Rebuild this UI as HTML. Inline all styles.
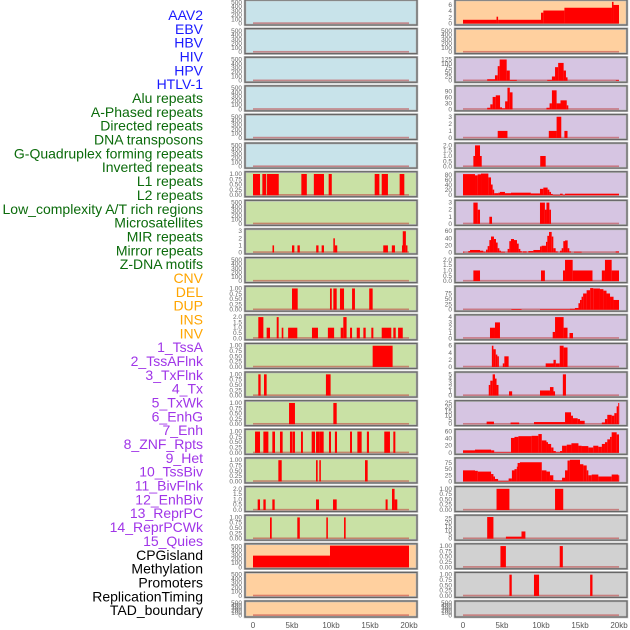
<!DOCTYPE html>
<html><head><meta charset="utf-8">
<style>
html,body{margin:0;padding:0;background:#fff;width:630px;height:630px;overflow:hidden;}
svg{display:block;font-family:"Liberation Sans",sans-serif;}
</style></head>
<body>
<svg id="chart" width="630" height="630"></svg>
<script>
// ---------- labels ----------
const labels = ["AAV2","EBV","HBV","HIV","HPV","HTLV-1","Alu repeats","A-Phased repeats","Directed repeats","DNA transposons","G-Quadruplex forming repeats","Inverted repeats","L1 repeats","L2 repeats","Low_complexity A/T rich regions","Microsatellites","MIR repeats","Mirror repeats","Z-DNA motifs","CNV","DEL","DUP","INS","INV","1_TssA","2_TssAFlnk","3_TxFlnk","4_Tx","5_TxWk","6_EnhG","7_Enh","8_ZNF_Rpts","9_Het","10_TssBiv","11_BivFlnk","12_EnhBiv","13_ReprPC","14_ReprPCWk","15_Quies","CPGisland","Methylation","Promoters","ReplicationTiming","TAD_boundary"];
const labelGroups = [0,0,0,0,0,0,1,1,1,1,1,1,1,1,1,1,1,1,1,2,2,2,2,2,3,3,3,3,3,3,3,3,3,3,3,3,3,3,3,4,4,4,4,4];
const groupColors = ["#1a1aff","#0b6b0b","#ffa500","#a035e8","#000000"];
const xTickVals = [0,5,10,15,20];
const xTickLabels = ["0","5kb","10kb","15kb","20kb"];

// ---------- tick sets ----------
const t500 = [0,100,200,300,400,500];
const t1 = [0,0.25,0.5,0.75,1];
const t2 = [0,0.5,1,1.5,2];
const t3 = [0,1,2,3];

// ---------- left column data: [startKb, endKb, value] ----------
const L07 = [[0,0.9,1],[1.2,1.7,1],[1.8,3.3,1],[6.2,6.9,1],[7.8,9.1,1],[9.7,10.1,1],[15.6,16.2,1],[16.5,17.3,1],[18.8,19.4,1]];
const L09 = [[2.5,2.7,1],[5.0,5.3,1],[5.7,6.0,1],[8.1,8.4,1],[8.8,9.1,1],[10.3,10.5,2],[10.5,10.8,1],[16.7,17.3,1],[17.8,18.2,1],[19.1,19.2,1],[19.2,19.6,3],[19.6,19.8,1]];
const L11 = [[5.0,5.73,1],[9.87,10.1,1],[10.3,10.73,1],[11.15,11.67,1],[12.7,13.07,1],[14.9,15.34,1]];
const L12 = [[0.68,1.33,2],[1.75,2.18,1],[3.04,3.29,2],[3.68,3.89,1],[4.5,5.68,1],[7.56,8.33,1],[9.6,10.4,1],[11.24,11.58,1],[11.58,12.0,2],[12.44,12.7,1],[13.3,13.7,1],[14.15,14.45,1],[15.17,15.43,1],[16.5,17.73,1],[17.99,18.3,1],[18.6,19.2,1]];
const L13 = [[15.34,17.9,1]];
const L14 = [[0.68,0.98,1],[1.41,1.75,1],[9.35,9.95,1]];
const L15 = [[4.62,5.38,1],[10.3,10.73,1]];
const L16 = [[0.26,0.9,1],[1.33,1.97,1],[2.48,2.82,1],[3.46,3.8,1],[4.74,5.04,1],[5.08,5.38,1],[6.15,6.4,1],[7.52,7.95,1],[8.08,8.5,1],[8.5,9.06,1],[9.74,10.0,1],[10.5,10.77,1],[12.44,12.69,1],[13.38,13.93,1],[14.6,14.87,1],[16.83,17.56,1],[17.99,18.25,1]];
const L17 = [[3.25,3.68,1],[8.08,8.29,1],[8.5,8.7,1],[14.36,14.7,1]];
const L18 = [[0.6,0.9,1],[1.33,1.63,1],[2.48,2.78,1],[8.08,8.46,1],[10.26,10.73,1],[17.0,17.26,1],[17.82,18.15,2],[18.15,18.5,1]];
const L19 = [[2.18,2.4,1],[5.68,6.0,1],[9.4,9.6,1],[11.67,11.88,1]];
const L20 = [[0,9.87,280],[9.87,20,520]];

// ---------- right column data ----------
const R01 = [[0,4.3,1.2],[4.3,4.5,2.2],[4.5,10.0,1.2],[10.0,10.3,3.5],[10.3,13.0,4.2],[13.0,19.1,5.1],[19.1,19.3,7],[19.3,20,6]];
const R03 = [[3.1,4.1,9],[4.1,4.45,32],[4.45,4.7,86],[4.7,5.6,125],[5.6,6.0,60],[6.0,6.9,5],[10.8,11.4,5],[11.4,11.8,25],[11.8,12.2,80],[12.2,12.9,105],[12.9,13.2,60],[13.2,13.4,20],[19.6,20,4]];
const R04 = [[3.1,3.5,8],[3.5,3.8,25],[3.8,4.2,62],[4.2,4.75,70],[4.75,5.0,10],[5.0,5.4,5],[5.4,5.7,40],[5.7,6.0,108],[6.0,6.35,85],[10.7,11.1,8],[11.1,11.4,30],[11.4,12.0,95],[12.0,12.5,30],[12.5,13.3,45],[13.3,13.5,20]];
const R05 = [[4.45,5.7,1],[11.0,12.0,1],[12.0,12.6,3],[13.0,13.4,1]];
const R06 = [[1.33,1.54,1],[1.54,2.18,2],[2.18,2.4,1],[9.9,10.6,1]];
const R07 = [[0,1.54,83],[1.54,1.88,78],[1.88,2.31,82],[2.31,3.25,85],[3.25,3.59,70],[3.59,3.8,42],[3.8,4.0,22],[4.0,4.53,8],[4.53,4.74,10],[4.74,5.38,13],[5.38,6.15,8],[6.15,8.7,10],[8.7,9.87,7],[9.87,10.3,25],[10.3,10.85,30],[10.85,11.07,22],[11.07,11.28,13],[11.28,11.5,5],[11.5,12.44,1],[12.44,12.78,6],[12.78,13.08,1],[13.08,20,6]];
const R08 = [[1.33,1.88,3],[1.88,2.18,2],[3.38,3.72,1],[9.87,10.5,3],[10.5,10.7,2],[10.7,11.07,3],[11.07,11.28,2]];
const R09 = [[0,0.17,2],[0.68,0.9,4],[0.9,2.18,7],[2.18,2.6,5],[2.6,2.9,2],[2.95,3.16,8],[3.16,3.38,18],[3.38,3.59,35],[3.59,3.97,45],[3.97,4.23,38],[4.23,4.44,28],[4.44,4.66,12],[4.66,4.87,5],[4.87,5.38,2],[5.72,5.94,10],[5.94,6.15,32],[6.15,6.54,38],[6.54,6.92,35],[6.92,7.14,25],[7.14,7.35,10],[7.35,7.52,4],[7.65,8.16,3],[8.38,9.02,4],[9.02,9.87,7],[9.87,10.08,17],[10.08,10.64,19],[10.64,10.81,30],[10.81,11.03,47],[11.03,11.37,58],[11.37,11.58,45],[11.58,11.88,12],[11.88,12.14,3],[12.44,12.65,5],[12.65,12.86,12],[12.86,13.08,32],[13.08,13.42,34],[13.42,13.63,12],[13.63,13.85,3],[14.23,15.21,2],[19.57,20,3]];
const R10 = [[1.33,2.18,1],[10.0,10.5,1],[12.82,13.08,1],[13.08,14.06,2],[14.06,16.6,1],[17.8,18.2,1],[18.2,19.06,2],[19.06,20,1]];
const R11 = [[6.2,7.5,3],[9.87,13.7,2],[13.7,14.35,4],[14.35,14.8,8],[14.8,15.0,30],[15.0,15.2,45],[15.2,15.4,60],[15.4,15.85,75],[15.85,16.3,90],[16.3,16.7,100],[16.7,17.56,98],[17.56,18.0,95],[18.0,18.4,88],[18.4,18.85,75],[18.85,19.3,60],[19.3,20,45]];
const R12 = [[3.46,4.1,2],[4.1,4.74,3],[11.5,11.8,1.2],[11.8,12.9,4],[12.9,13.4,2],[13.65,14.1,1]];
const R13 = [[3.7,3.9,6],[3.9,4.2,5],[4.2,4.4,3.5],[4.4,4.6,3],[5.1,5.3,1],[5.3,5.85,3],[10.6,11.6,1],[11.6,11.9,2],[11.9,12.4,1],[12.4,12.9,6],[12.9,13.4,5.5]];
const R14 = [[3.3,3.5,2.5],[3.5,3.8,3.5],[3.8,4.1,5],[4.1,4.3,4],[4.3,4.55,2.5],[5.9,6.3,1],[9.87,11.15,1.2],[11.15,11.6,2],[11.6,11.8,1],[12.8,13.2,5]];
const R15 = [[3.03,3.97,3],[6.1,7.2,2],[9.1,13.08,2.5],[13.08,13.85,14],[13.85,14.1,10],[14.1,14.7,7],[14.7,15.0,6],[15.0,15.6,4],[17.8,18.2,2],[18.2,18.5,6],[18.5,19.06,11],[19.06,19.4,10],[19.4,19.7,13],[19.7,19.9,21],[19.9,20,25]];
const R16 = [[0,1.54,7],[1.54,3.6,9],[3.6,4.0,7],[4.0,6.15,1],[6.15,6.6,42],[6.6,7.1,45],[7.1,8.8,47],[8.8,9.66,48],[9.66,10.1,53],[10.1,10.7,35],[10.7,10.9,30],[10.9,11.3,25],[11.3,11.6,15],[11.6,11.9,5],[11.9,12.44,1],[12.44,12.7,5],[12.7,13.3,20],[13.3,13.9,23],[13.9,14.8,27],[14.8,15.2,20],[15.2,16.07,19],[16.07,16.7,15],[16.7,17.35,20],[17.35,17.8,17],[17.8,18.2,25],[18.2,18.5,30],[18.5,18.85,38],[18.85,19.06,45],[19.06,19.7,58],[19.7,20,52]];
const R17 = [[0,1.54,45],[1.54,1.9,43],[1.9,3.6,40],[3.6,3.9,30],[3.9,4.1,20],[4.1,4.5,10],[4.5,5.85,1],[5.85,6.27,12],[6.27,6.6,45],[6.6,6.9,50],[6.9,7.0,60],[7.0,7.3,75],[7.3,10.1,78],[10.1,10.7,45],[10.7,11.15,40],[11.15,11.58,25],[11.58,11.8,5],[11.8,12.7,4],[12.7,13.08,15],[13.08,13.4,45],[13.4,13.7,85],[13.7,15.0,88],[15.0,15.43,70],[15.43,15.86,65],[15.86,16.07,45],[16.07,16.5,25],[16.5,17.35,28],[17.35,19.06,20],[19.06,19.9,28],[19.9,20,25]];
const R18 = [[4.3,5.95,1],[11.8,12.85,1]];
const R19 = [[3.1,3.9,27],[5.5,7.5,2.5],[7.5,8.0,9]];
const R20 = [[4.8,5.5,1],[12.4,12.8,1]];
const R21 = [[5.95,6.25,1],[9.1,9.75,1],[16.3,16.6,1]];

const leftData  = [[],[],[],[],[],[],L07,[],L09,[],L11,L12,L13,L14,L15,L16,L17,L18,L19,L20,[],[]];
const rightData = [R01,[],R03,R04,R05,R06,R07,R08,R09,R10,R11,R12,R13,R14,R15,R16,R17,R18,R19,R20,R21,[]];
const leftTicks  = [t500,t500,t500,t500,t500,t500,t1,t500,t3,t500,t1,t2,t1,t1,t1,t1,t1,t2,t1,t500,t500,t500];
const rightTicks = [[0,2,4,6],t500,[0,25,50,75,100,125],[0,30,60,90],t3,t2,[0,20,40,60,80],t3,[0,20,40,60],t2,[0,25,50,75],[0,1,2,3,4],[0,2,4,6],[0,1,2,3,4,5],[0,5,10,15,20,25],[0,20,40,60],[0,25,50,75],t1,[0,5,10,15,20,25],t1,t1,t500];

// ---------- drawing ----------
const NS = "http://www.w3.org/2000/svg";
const svg = document.getElementById("chart");
function mk(tag, attrs, parent){
  const e = document.createElementNS(NS, tag);
  for (const k in attrs) e.setAttribute(k, attrs[k]);
  (parent||svg).appendChild(e);
  return e;
}
const BLUE="#c8e3ea", PEACH="#ffd09f", LAV="#d6c5e2", GREEN="#c9e1a5", GRAY="#d1d1d1";
function leftBg(i){ return i<6?BLUE:(i<19?GREEN:PEACH); }
function rightBg(i){ return i<2?PEACH:(i<17?LAV:GRAY); }
function rowTop(i){ return 28.62*i; }
function rowH(i){ return i===21?16:25; }
function fmt(t, ticks){
  const top = ticks[ticks.length-1];
  if (top===1) return t.toFixed(2);
  if (top===2) return t.toFixed(1);
  return String(t);
}

// labels
labels.forEach((lab,i)=>{
  const t = mk("text",{x:203,y:15+13.84*i+5,"text-anchor":"end","font-size":"14",fill:groupColors[labelGroups[i]]});
  t.textContent = lab;
  
  
});

function drawPanel(i, side){
  const px0 = side==="L"?245:455, pw = 172;
  const x0 = side==="L"?253:463, kbw = 7.8;
  const data = side==="L"?leftData[i]:rightData[i];
  const ticks = side==="L"?leftTicks[i]:rightTicks[i];
  const top = rowTop(i), h = rowH(i);
  const g = mk("g",{});
  
  
  mk("rect",{x:px0,y:top,width:pw,height:h,fill:side==="L"?leftBg(i):rightBg(i),stroke:"#bbb","stroke-width":2.5},g);
  const topTick = ticks[ticks.length-1];
  let dmax = 0; data.forEach(d=>{ if(d[2]>dmax) dmax=d[2]; });
  const ymax = Math.max(topTick*1.06, dmax*1.04);
  const yb = top+h-1.5, yt = top+1;
  const ys = v => yb - (v/ymax)*(yb-yt);
  const xs = kb => x0 + kb*kbw;
  // baseline
  const bl = mk("rect",{x:xs(0),y:yb-1.2,width:xs(20)-xs(0),height:1.6,fill:"rgba(190,60,60,0.55)"},g);
  
  
  data.forEach(d=>{
    const xa = xs(d[0]), xb = xs(d[1]);
    const yv = Math.max(top, ys(d[2]));
    const r = mk("rect",{x:xa,y:yv,width:Math.max(1,xb-xa),height:Math.max(0.5,yb-yv),fill:"#ff0000"},g);
    
    
  });
  mk("rect",{x:px0,y:top,width:pw,height:h,fill:"none",stroke:"#666","stroke-width":1.2},g);
  ticks.forEach(t=>{
    const tx = mk("text",{x:px0-3,y:ys(t)+2,"text-anchor":"end","font-size":"6.5",fill:"#666"},g);
    tx.textContent = fmt(t,ticks);
    
    
  });
}
for (let i=0;i<22;i++){ drawPanel(i,"L"); drawPanel(i,"R"); }

// x axes
[253,463].forEach(x0=>{
  xTickVals.forEach((v,k)=>{
    const t = mk("text",{x:x0+v*7.8,y:628,"text-anchor":"middle","font-size":"8",fill:"#555"});
    t.textContent = xTickLabels[k];
    
    
  });
});
</script>
</body></html>
